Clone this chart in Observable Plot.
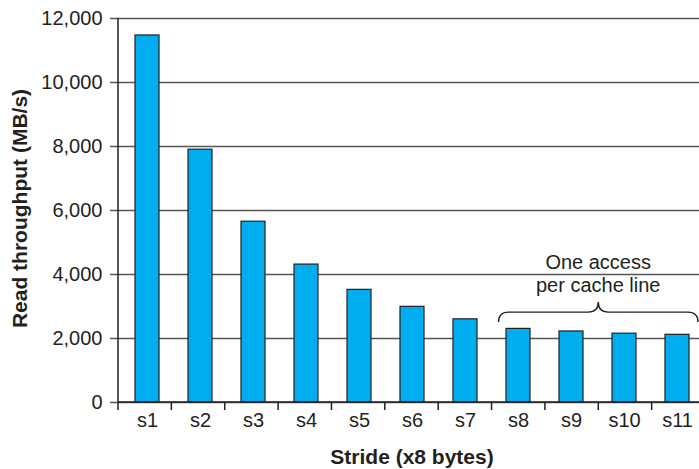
<!DOCTYPE html>
<html>
<head>
<meta charset="utf-8">
<script src="https://cdn.jsdelivr.net/npm/d3@7"></script>
<script src="https://cdn.jsdelivr.net/npm/@observablehq/plot@0.6"></script>
<style>
  html, body { margin: 0; padding: 0; background: #fff; overflow: hidden; }
</style>
</head>
<body>
<div id="chart"></div>
<script>
const categories = ["s1", "s2", "s3", "s4", "s5", "s6", "s7", "s8", "s9", "s10", "s11"];
const throughput = [11470, 7900, 5650, 4310, 3520, 2990, 2600, 2300, 2220, 2150, 2115];
const yTicks = [0, 2000, 4000, 6000, 8000, 10000, 12000];
const yLabel = ["Read throughput (MB/s)"];
const xLabel = ["Stride (x8 bytes)"];
const noteLines = ["One access\nper cache line"];
const noteCategory = ["s9"];          // note sits between s9 and s10
const braceFrom = ["s8"], braceTo = ["s11"];
const braceLevels = [2500, 2810, 3125]; // ends, bar, tip (MB/s units)
const noteBaseline = [3440];

const data = categories.map((c, i) => ({stride: c, value: throughput[i]}));

const W = 699, H = 469, ML = 118, MR = -6, MT = 18, MB = 67;
const step = (W - MR - ML) / categories.length;
const ink = "#231f20";

function decor(index, scales, values, dims, context) {
  const {x, y} = scales;
  const g = d3.select(context.document.createElementNS("http://www.w3.org/2000/svg", "g"));
  const y0 = y(0);
  const left = dims.marginLeft;
  const right = dims.width - dims.marginRight;
  // left axis line
  g.append("line").attr("x1", left).attr("x2", left).attr("y1", dims.marginTop).attr("y2", y0 + 8)
    .attr("stroke", ink).attr("stroke-width", 1.5);
  // bottom axis line
  g.append("line").attr("x1", left).attr("x2", right).attr("y1", y0).attr("y2", y0)
    .attr("stroke", ink).attr("stroke-width", 1.5);
  // category boundary ticks
  const s = (right - left) / categories.length;
  for (let i = 1; i <= categories.length; i++) {
    const bx = left + i * s;
    g.append("line").attr("x1", bx).attr("x2", bx).attr("y1", y0).attr("y2", y0 + 8)
      .attr("stroke", ink).attr("stroke-width", 1.5);
  }
  // brace
  const i0 = categories.indexOf(braceFrom[0]);
  const i1 = categories.indexOf(braceTo[0]);
  const xl = left + i0 * s + 7;
  const xr = left + (i1 + 1) * s - 7;
  const xc = (xl + xr) / 2;
  const yE = y(braceLevels[0]), yM = y(braceLevels[1]), yT = y(braceLevels[2]);
  const r = 10;
  const p = `M${xl},${yE} Q${xl},${yM} ${xl + r},${yM} L${xc - r},${yM} Q${xc},${yM} ${xc},${yT} Q${xc},${yM} ${xc + r},${yM} L${xr - r},${yM} Q${xr},${yM} ${xr},${yE}`;
  g.append("path").attr("d", p).attr("fill", "none").attr("stroke", ink).attr("stroke-width", 1.4);
  return g.node();
}

const chart = Plot.plot({
  width: W, height: H,
  marginLeft: ML, marginRight: MR, marginTop: MT, marginBottom: MB,
  style: {fontFamily: "'Liberation Sans', Arial, Helvetica, sans-serif", fontSize: "20px", color: ink, background: "#fff"},
  x: {domain: categories, paddingInner: 0.55, paddingOuter: 0.275, axis: null},
  y: {domain: [0, 12000], axis: null},
  marks: [
    Plot.ruleY(yTicks, {y: d => d, stroke: "#555", strokeWidth: 1.5, insetLeft: -8}),
    Plot.axisY(yTicks, {tickSize: 0, tickPadding: 16, tickFormat: d3.format(","), fontSize: 20, fill: ink, label: null}),
    Plot.barY(data, {x: "stride", y: "value", fill: "#00aeef", stroke: ink, strokeWidth: 1.2}),
    Plot.axisX(categories, {tickSize: 0, tickPadding: 10, fontSize: 20, fill: ink, label: null}),
    decor,
    Plot.text(noteLines, {x: noteCategory, y: noteBaseline, text: d => d, dx: step / 2, lineAnchor: "bottom", lineHeight: 1.15, fontSize: 20, fill: ink}),
    Plot.text(yLabel, {text: d => d, frameAnchor: "left", textAnchor: "middle", dx: -92, dy: -2, rotate: -90, lineAnchor: "bottom", fontWeight: "bold", fontSize: 21, fill: ink}),
    Plot.text(xLabel, {text: d => d, frameAnchor: "bottom", textAnchor: "middle", dy: 61, lineAnchor: "bottom", fontWeight: "bold", fontSize: 21, fill: ink})
  ]
});
document.getElementById("chart").appendChild(chart);
</script>
</body>
</html>
